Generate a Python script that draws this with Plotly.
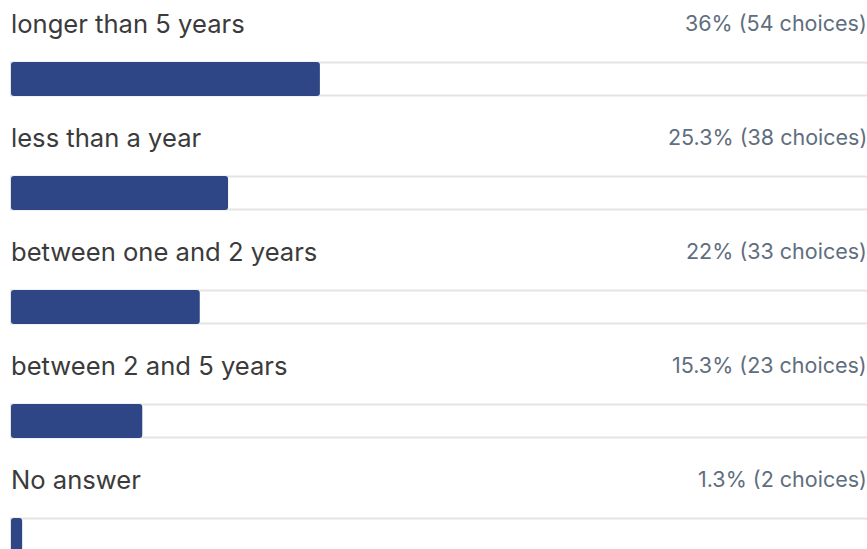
import plotly.graph_objects as go

labels = ["longer than 5 years", "less than a year", "between one and 2 years",
          "between 2 and 5 years", "No answer"]
percents = [36, 25.3, 22, 15.3, 1.3]
choices = [54, 38, 33, 23, 2]

W, H = 867, 549
row_step = 114
bar_center0 = 79
label_y0 = 23.5

ys = [bar_center0 + row_step * i for i in range(len(labels))]
label_ys = [label_y0 + row_step * i for i in range(len(labels))]

fig = go.Figure()
# track
fig.add_trace(go.Bar(
    x=[100] * len(labels), y=ys, orientation="h", width=33,
    marker=dict(color="white", line=dict(color="#e4e4e4", width=2), cornerradius=4),
    hoverinfo="skip", showlegend=False,
))
# fill (drawn from value back to 0 so the rounded end sits on the left)
fig.add_trace(go.Bar(
    x=[-p for p in percents], base=percents, y=ys, orientation="h", width=34,
    marker=dict(color="#2e4586", line=dict(width=0), cornerradius=3),
    hoverinfo="skip", showlegend=False,
))

for lab, pct, ch, ly in zip(labels, percents, choices, label_ys):
    fig.add_annotation(x=0, y=ly, xref="x", yref="y", text=lab, showarrow=False,
                       xanchor="left", yanchor="middle", xshift=-2,
                       font=dict(family="Inter", size=25.6, color="#3b3b3b"))
    fig.add_annotation(x=1, y=ly - 1, xref="paper", yref="y",
                       text=f"{pct:g}% ({ch} choices)", showarrow=False,
                       xanchor="right", yanchor="middle", xshift=2,
                       font=dict(family="Inter", size=21.5, color="#5f6e7e"))

px_per = 858 / 100
r0 = -11 / px_per
r1 = (W - 11) / px_per
fig.update_layout(
    width=W, height=H, margin=dict(l=0, r=0, t=0, b=0),
    paper_bgcolor="white", plot_bgcolor="white", barmode="overlay",
    xaxis=dict(range=[r0, r1], visible=False, fixedrange=True),
    yaxis=dict(range=[H, 0], visible=False, fixedrange=True),
)
fig.write_html(
    "out.html",
    config={"displayModeBar": False, "staticPlot": True},
    post_script="document.documentElement.style.overflow='hidden';"
                "document.body.style.margin='0';document.body.style.overflow='hidden';",
)
